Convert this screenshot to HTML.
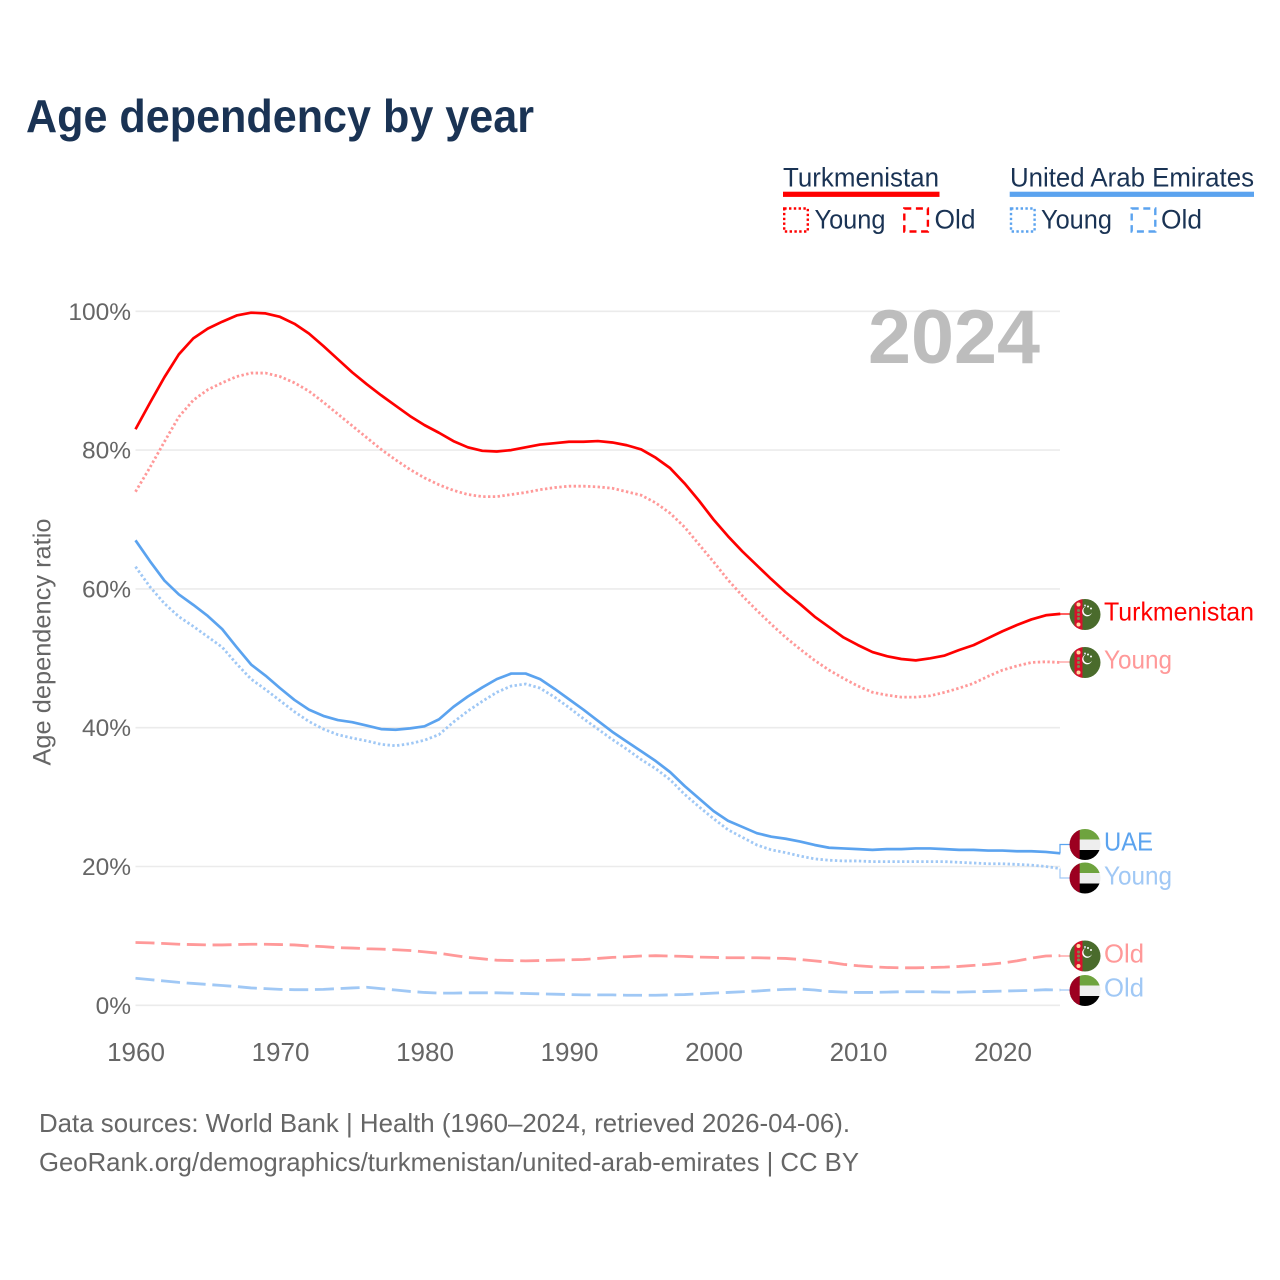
<!DOCTYPE html>
<html lang="en">
<head>
<meta charset="utf-8">
<title>Age dependency by year</title>
<style>
html,body{margin:0;padding:0;background:#fff;}
svg{display:block;font-family:"Liberation Sans",sans-serif;}
</style>
</head>
<body>
<svg id="chart" xmlns="http://www.w3.org/2000/svg" width="1280" height="1280" viewBox="0 0 1280 1280">
  <defs>
    <clipPath id="flag-clip"><circle cx="0" cy="0" r="15.5"/></clipPath>
    <g id="flag-tm" clip-path="url(#flag-clip)">
      <rect x="-16" y="-16" width="32" height="32" fill="#4a6b2c"/>
      <rect x="-10.5" y="-16" width="8" height="32" fill="#d8102c"/>
      <circle cx="-6.5" cy="-10" r="2" fill="#ffd9a0"/>
      <circle cx="-6.5" cy="-4" r="1.5" fill="#7a8a50"/>
      <circle cx="-6.5" cy="0" r="1.5" fill="#7a8a50"/>
      <circle cx="-6.5" cy="4" r="1.5" fill="#7a8a50"/>
      <circle cx="-6.5" cy="10" r="2" fill="#ffd9a0"/>
      <path d="M1 -8 A5 5 0 1 0 7 -2 A4.5 4.5 0 1 1 1 -8Z" fill="#fff"/>
      <circle cx="3" cy="-8" r="1" fill="#fff"/>
      <circle cx="6" cy="-6" r="1" fill="#fff"/>
      <circle cx="0" cy="-9" r="1" fill="#dde"/>
    </g>
    <g id="flag-uae" clip-path="url(#flag-clip)">
      <rect x="-16" y="-16" width="32" height="11" fill="#6ea33e"/>
      <rect x="-16" y="-5" width="32" height="10.5" fill="#eeeeee"/>
      <rect x="-16" y="5.5" width="32" height="11" fill="#000"/>
      <rect x="-16" y="-16" width="10.7" height="32" fill="#9c0020"/>
    </g>
  </defs>

  <text x="26" y="132" font-size="46" font-weight="700" fill="#1a3354" textLength="508" lengthAdjust="spacingAndGlyphs">Age dependency by year</text>

  <g>
    <text x="783" y="186.5" font-size="27" fill="#1a3354" textLength="156" lengthAdjust="spacingAndGlyphs">Turkmenistan</text>
    <rect x="783" y="191.7" width="156.5" height="5.2" fill="#ff0000"/>
    <rect x="784.2" y="208.5" width="23.6" height="23" fill="none" stroke="#ff0000" stroke-width="2.4" stroke-dasharray="2.4 2.4"/>
    <text x="814.5" y="228.5" font-size="27" fill="#1a3354" textLength="71" lengthAdjust="spacingAndGlyphs">Young</text>
    <rect x="904.3" y="208.5" width="23.6" height="23" fill="none" stroke="#ff0000" stroke-width="2.4" stroke-dasharray="7 4.6"/>
    <text x="934.5" y="228.5" font-size="27" fill="#1a3354" textLength="41" lengthAdjust="spacingAndGlyphs">Old</text>

    <text x="1010" y="186.5" font-size="27" fill="#1a3354" textLength="244" lengthAdjust="spacingAndGlyphs">United Arab Emirates</text>
    <rect x="1009.7" y="191.7" width="244.3" height="5.2" fill="#5ba3ef"/>
    <rect x="1011" y="208.5" width="23.6" height="23" fill="none" stroke="#5ba3ef" stroke-width="2.4" stroke-dasharray="2.4 2.4"/>
    <text x="1041" y="228.5" font-size="27" fill="#1a3354" textLength="71" lengthAdjust="spacingAndGlyphs">Young</text>
    <rect x="1131.7" y="208.5" width="23.6" height="23" fill="none" stroke="#5ba3ef" stroke-width="2.4" stroke-dasharray="7 4.6"/>
    <text x="1161" y="228.5" font-size="27" fill="#1a3354" textLength="41" lengthAdjust="spacingAndGlyphs">Old</text>
  </g>

  <g id="grid"></g>
  <g id="yticks"></g>
  <g id="xticks"></g>

  <text x="0" y="0" transform="translate(50.5,642) rotate(-90)" text-anchor="middle" font-size="25" fill="#666666" textLength="247" lengthAdjust="spacingAndGlyphs">Age dependency ratio</text>

  <text x="1040" y="363" text-anchor="end" font-size="76" font-weight="700" fill="#bdbdbd" textLength="172" lengthAdjust="spacingAndGlyphs">2024</text>

  <g id="connectors"></g>
  <g id="series"></g>

  <g>
    <use href="#flag-tm" transform="translate(1085,614.5)"/>
    <text x="1104" y="620.5" font-size="26" fill="#ff0000" textLength="150" lengthAdjust="spacingAndGlyphs">Turkmenistan</text>
    <use href="#flag-tm" transform="translate(1085,662.5)"/>
    <text x="1104" y="668.5" font-size="26" fill="#ff9999" textLength="68" lengthAdjust="spacingAndGlyphs">Young</text>
    <use href="#flag-uae" transform="translate(1085,844.5)"/>
    <text x="1104" y="850.5" font-size="26" fill="#5ba3ef" textLength="49" lengthAdjust="spacingAndGlyphs">UAE</text>
    <use href="#flag-uae" transform="translate(1085,878)"/>
    <text x="1104" y="884.5" font-size="26" fill="#a0c8f5" textLength="68" lengthAdjust="spacingAndGlyphs">Young</text>
    <use href="#flag-tm" transform="translate(1085,956)"/>
    <text x="1104" y="962.5" font-size="26" fill="#ff9999" textLength="40" lengthAdjust="spacingAndGlyphs">Old</text>
    <use href="#flag-uae" transform="translate(1085,990.5)"/>
    <text x="1104" y="996.5" font-size="26" fill="#a0c8f5" textLength="40" lengthAdjust="spacingAndGlyphs">Old</text>
  </g>

  <text x="39" y="1132" font-size="26" fill="#666666" textLength="811" lengthAdjust="spacingAndGlyphs">Data sources: World Bank | Health (1960–2024, retrieved 2026-04-06).</text>
  <text x="39" y="1171" font-size="26" fill="#666666" textLength="820" lengthAdjust="spacingAndGlyphs">GeoRank.org/demographics/turkmenistan/united-arab-emirates | CC BY</text>
</svg>

<script>
const startYear = 1960;
const yTickValues = [0, 20, 40, 60, 80, 100];
const xTickValues = [1960, 1970, 1980, 1990, 2000, 2010, 2020];

const turkmenistanTotal = [83.0,86.8,90.5,93.8,96.1,97.5,98.5,99.4,99.8,99.7,99.2,98.2,96.8,95.0,93.1,91.2,89.5,87.9,86.4,84.9,83.6,82.5,81.3,80.4,79.9,79.8,80.0,80.4,80.8,81.0,81.2,81.2,81.3,81.1,80.7,80.1,78.9,77.4,75.2,72.7,70.0,67.6,65.4,63.4,61.4,59.5,57.8,56.0,54.5,53.0,51.9,50.9,50.3,49.9,49.7,50.0,50.4,51.2,51.9,52.9,53.9,54.8,55.6,56.2,56.4];
const turkmenistanYoung = [74.0,77.5,81.2,84.8,87.2,88.7,89.7,90.6,91.1,91.1,90.6,89.7,88.5,86.9,85.2,83.5,81.8,80.1,78.6,77.2,76.0,75.0,74.2,73.6,73.3,73.3,73.6,73.9,74.3,74.6,74.8,74.8,74.7,74.5,74.0,73.5,72.4,70.9,68.9,66.4,63.9,61.3,59.0,56.9,54.9,53.0,51.3,49.7,48.3,47.1,46.0,45.1,44.7,44.4,44.4,44.6,45.1,45.7,46.4,47.4,48.3,48.9,49.4,49.5,49.4];
const turkmenistanOld = [9.05,9.0,8.9,8.8,8.75,8.7,8.7,8.75,8.8,8.8,8.75,8.7,8.55,8.45,8.3,8.25,8.15,8.1,8.0,7.9,7.7,7.5,7.2,6.9,6.7,6.5,6.45,6.4,6.45,6.5,6.55,6.6,6.75,6.9,7.0,7.1,7.15,7.1,7.05,6.95,6.9,6.85,6.85,6.85,6.8,6.75,6.6,6.4,6.2,5.9,5.7,5.55,5.45,5.4,5.4,5.45,5.5,5.6,5.75,5.9,6.1,6.4,6.8,7.1,7.15];
const uaeTotal = [67.0,64.0,61.2,59.2,57.7,56.1,54.2,51.6,49.1,47.5,45.7,44.0,42.6,41.7,41.1,40.8,40.3,39.8,39.7,39.9,40.2,41.2,43.0,44.5,45.8,47.0,47.8,47.8,47.0,45.6,44.1,42.6,41.0,39.4,38.0,36.6,35.2,33.6,31.6,29.8,28.0,26.6,25.7,24.8,24.3,24.0,23.6,23.1,22.7,22.6,22.5,22.4,22.5,22.5,22.6,22.6,22.5,22.4,22.4,22.3,22.3,22.2,22.2,22.1,21.9];
const uaeYoung = [63.2,60.3,57.9,56.0,54.6,53.1,51.6,49.2,47.0,45.5,43.9,42.3,40.9,39.8,39.0,38.5,38.1,37.6,37.4,37.7,38.2,39.0,40.8,42.4,43.8,45.1,46.0,46.3,45.7,44.4,42.9,41.3,39.8,38.3,36.9,35.4,34.1,32.5,30.4,28.6,26.9,25.3,24.2,23.1,22.4,22.0,21.5,21.1,20.9,20.8,20.8,20.7,20.7,20.7,20.7,20.7,20.7,20.6,20.5,20.4,20.4,20.3,20.2,20.0,19.7];
const uaeOld = [3.9,3.7,3.5,3.3,3.15,3.0,2.85,2.7,2.5,2.4,2.3,2.25,2.25,2.3,2.4,2.5,2.6,2.4,2.2,2.0,1.85,1.75,1.75,1.8,1.8,1.8,1.75,1.7,1.65,1.6,1.55,1.5,1.5,1.5,1.45,1.45,1.45,1.5,1.55,1.65,1.75,1.85,1.95,2.05,2.2,2.3,2.35,2.2,2.0,1.9,1.85,1.85,1.9,1.95,1.95,1.95,1.9,1.9,1.95,2.0,2.05,2.1,2.15,2.25,2.2];

const NS = 'http://www.w3.org/2000/svg';
function xScale(year) { return 135.5 + (year - 1960) * 14.45; }
function yScale(value) { return 1005.3 - value * 6.94; }
function make(tag, attrs, parent) {
  const el = document.createElementNS(NS, tag);
  for (const k in attrs) el.setAttribute(k, attrs[k]);
  parent.appendChild(el);
  return el;
}
const gridGroup = document.getElementById('grid');
const yTickGroup = document.getElementById('yticks');
const xTickGroup = document.getElementById('xticks');
const seriesGroup = document.getElementById('series');
const connectorGroup = document.getElementById('connectors');

yTickValues.forEach(function (v) {
  const line = make('line', {x1: 135.5, x2: 1060, y1: yScale(v), y2: yScale(v), stroke: '#ebebeb', 'stroke-width': 1.6}, gridGroup);
  
  
  const label = make('text', {x: 131, y: yScale(v) + 8.5, 'text-anchor': 'end', 'font-size': 24.5, fill: '#666666'}, yTickGroup);
  
  
  label.textContent = v + '%';
});
xTickValues.forEach(function (yr) {
  const label = make('text', {x: xScale(yr) + 0.5, y: 1061, 'text-anchor': 'middle', 'font-size': 26, fill: '#666666'}, xTickGroup);
  
  
  label.textContent = yr;
});

function pathOf(values) {
  return values.map(function (v, i) {
    return (i ? 'L' : 'M') + xScale(startYear + i).toFixed(2) + ' ' + yScale(v).toFixed(2);
  }).join(' ');
}
function drawSeries(name, values, color, dash, width) {
  const p = make('path', {d: pathOf(values), fill: 'none', stroke: color, 'stroke-width': width, 'stroke-linejoin': 'round'}, seriesGroup);
  if (dash) p.setAttribute('stroke-dasharray', dash);
  
  
}
const dotted = '2.4 2.4';
const dashed = '19 6.7';
drawSeries('line-turkmenistan-old', turkmenistanOld, '#ff9999', dashed, 2.8);
drawSeries('line-uae-old', uaeOld, '#a0c8f5', dashed, 2.8);
drawSeries('line-turkmenistan-young', turkmenistanYoung, '#ff9999', dotted, 2.8);
drawSeries('line-uae-young', uaeYoung, '#a0c8f5', dotted, 2.8);
drawSeries('line-turkmenistan-total', turkmenistanTotal, '#ff0000', null, 2.7);
drawSeries('line-uae-total', uaeTotal, '#5ba3ef', null, 2.7);

function drawConnector(name, values, labelY, color) {
  const y0 = yScale(values[values.length - 1]);
  const p = make('path', {d: 'M1060 ' + y0.toFixed(2) + ' V' + labelY + ' H1071', fill: 'none', stroke: color, 'stroke-width': 1.2}, connectorGroup);
  
  
}
drawConnector('connector-turkmenistan-total', turkmenistanTotal, 614, '#ff0000');
drawConnector('connector-turkmenistan-young', turkmenistanYoung, 662, '#ff9999');
drawConnector('connector-uae-total', uaeTotal, 844.5, '#5ba3ef');
drawConnector('connector-uae-young', uaeYoung, 878, '#a0c8f5');
drawConnector('connector-turkmenistan-old', turkmenistanOld, 956, '#ff9999');
drawConnector('connector-uae-old', uaeOld, 990, '#a0c8f5');
</script>
</body>
</html>
